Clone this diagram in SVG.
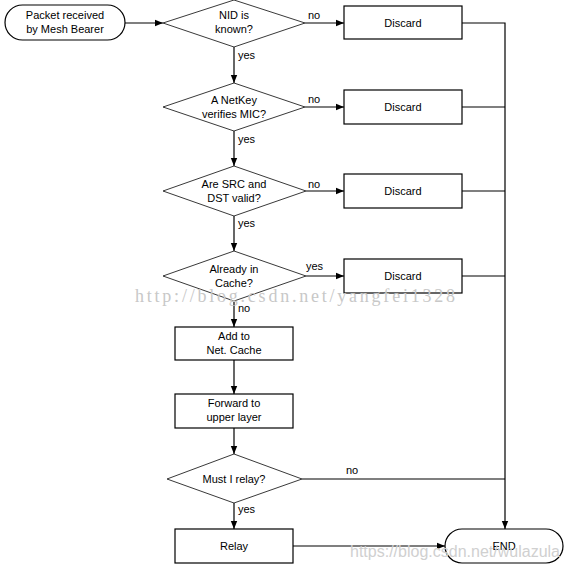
<svg xmlns="http://www.w3.org/2000/svg" width="568" height="570" viewBox="0 0 568 570">
<style>
text{font-family:"Liberation Sans",Arial,sans-serif;font-size:11px;fill:#000;text-anchor:middle}
.lbl{text-anchor:start}
.box{fill:#fff;stroke:#000;stroke-width:1.2}
.dia{fill:#fff;stroke:#222;stroke-width:0.9}
.ln{fill:none;stroke:#000;stroke-width:1.2}
.wm1{font-family:"Liberation Serif","DejaVu Serif",serif;font-size:18px;fill:#c8c8c8;text-anchor:start}
.wm2{font-family:"Liberation Sans",Arial,sans-serif;font-size:16px;fill:#d0d0d0;text-anchor:start}
</style>
<defs>
<marker id="ah" viewBox="0 0 10 10" refX="10" refY="5" markerWidth="8" markerHeight="8" markerUnits="userSpaceOnUse" orient="auto">
<path d="M0,1 L10,5 L0,9 Z" fill="#000"/>
</marker>
</defs>
<rect width="568" height="570" fill="#fff"/>
<g id="connectors">
<line class="ln" x1="125" y1="23" x2="163" y2="23" marker-end="url(#ah)"/>
<line class="ln" x1="305" y1="23" x2="344" y2="23" marker-end="url(#ah)"/>
<line class="ln" x1="234" y1="47" x2="234" y2="83" marker-end="url(#ah)"/>
<line class="ln" x1="305" y1="107" x2="344" y2="107" marker-end="url(#ah)"/>
<line class="ln" x1="234" y1="131" x2="234" y2="166" marker-end="url(#ah)"/>
<line class="ln" x1="306" y1="191" x2="344" y2="191" marker-end="url(#ah)"/>
<line class="ln" x1="234" y1="216" x2="234" y2="251" marker-end="url(#ah)"/>
<line class="ln" x1="306" y1="276" x2="344" y2="276" marker-end="url(#ah)"/>
<line class="ln" x1="234" y1="301" x2="234" y2="327" marker-end="url(#ah)"/>
<line class="ln" x1="234" y1="360" x2="234" y2="394" marker-end="url(#ah)"/>
<line class="ln" x1="234" y1="428" x2="234" y2="454" marker-end="url(#ah)"/>
<line class="ln" x1="234" y1="503" x2="234" y2="529" marker-end="url(#ah)"/>
<line class="ln" x1="293" y1="546" x2="445" y2="546" marker-end="url(#ah)"/>
<polyline class="ln" points="462,23 505,23 505,529" marker-end="url(#ah)"/>
<line class="ln" x1="462" y1="107" x2="505" y2="107"/>
<line class="ln" x1="462" y1="191" x2="505" y2="191"/>
<line class="ln" x1="462" y1="276" x2="505" y2="276"/>
<line class="ln" x1="302" y1="479" x2="505" y2="479"/>
<text class="lbl" x="308" y="19">no</text>
<text class="lbl" x="308" y="103">no</text>
<text class="lbl" x="308" y="188">no</text>
<text class="lbl" x="306" y="270">yes</text>
<text class="lbl" x="346" y="474">no</text>
<text class="lbl" x="238" y="59">yes</text>
<text class="lbl" x="238" y="143">yes</text>
<text class="lbl" x="238" y="227">yes</text>
<text class="lbl" x="238" y="312">no</text>
<text class="lbl" x="238" y="513">yes</text>
</g>
<g id="start">
<rect class="box" x="5" y="5" width="120" height="35" rx="17.5"/>
<text x="65" y="19">Packet received</text>
<text x="65" y="33">by Mesh Bearer</text>
</g>
<g id="d1">
<polygon class="dia" points="234,0 305,23 234,47 163,23"/>
<text x="234" y="19">NID is</text>
<text x="234" y="33">known?</text>
</g>
<g id="discard1">
<rect class="box" x="344" y="6" width="118" height="33"/>
<text x="403" y="27">Discard</text>
</g>
<g id="d2">
<polygon class="dia" points="234,83 305,107 234,131 163,107"/>
<text x="234" y="104">A NetKey</text>
<text x="234" y="118">verifies MIC?</text>
</g>
<g id="discard2">
<rect class="box" x="344" y="90" width="118" height="34"/>
<text x="403" y="111">Discard</text>
</g>
<g id="d3">
<polygon class="dia" points="234,166 306,191 234,216 163,191"/>
<text x="234" y="188">Are SRC and</text>
<text x="234" y="202">DST valid?</text>
</g>
<g id="discard3">
<rect class="box" x="344" y="174" width="118" height="34"/>
<text x="403" y="195">Discard</text>
</g>
<g id="d4">
<polygon class="dia" points="234,251 306,276 234,301 163,276"/>
<text x="234" y="273">Already in</text>
<text x="234" y="287">Cache?</text>
</g>
<g id="discard4">
<rect class="box" x="344" y="259" width="118" height="34"/>
<text x="403" y="280">Discard</text>
</g>
<g id="addcache">
<rect class="box" x="175" y="327" width="118" height="33"/>
<text x="234" y="340">Add to</text>
<text x="234" y="354">Net.  Cache</text>
</g>
<g id="forward">
<rect class="box" x="175" y="394" width="118" height="34"/>
<text x="234" y="407">Forward to</text>
<text x="234" y="421">upper layer</text>
</g>
<g id="d5">
<polygon class="dia" points="234,454 302,479 234,503 167,479"/>
<text x="234" y="483">Must I relay?</text>
</g>
<g id="relay">
<rect class="box" x="175" y="529" width="118" height="34"/>
<text x="234" y="550">Relay</text>
</g>
<g id="end">
<rect class="box" x="445" y="529" width="118" height="34" rx="17"/>
<text x="504" y="550">END</text>
</g>
<g id="watermarks">
<text class="wm1" x="135" y="302" textLength="320" lengthAdjust="spacing">http://blog.csdn.net/yangfei1328</text>
<text class="wm2" x="350" y="557" textLength="210" lengthAdjust="spacingAndGlyphs">https://blog.csdn.net/wulazula</text>
</g>
</svg>
